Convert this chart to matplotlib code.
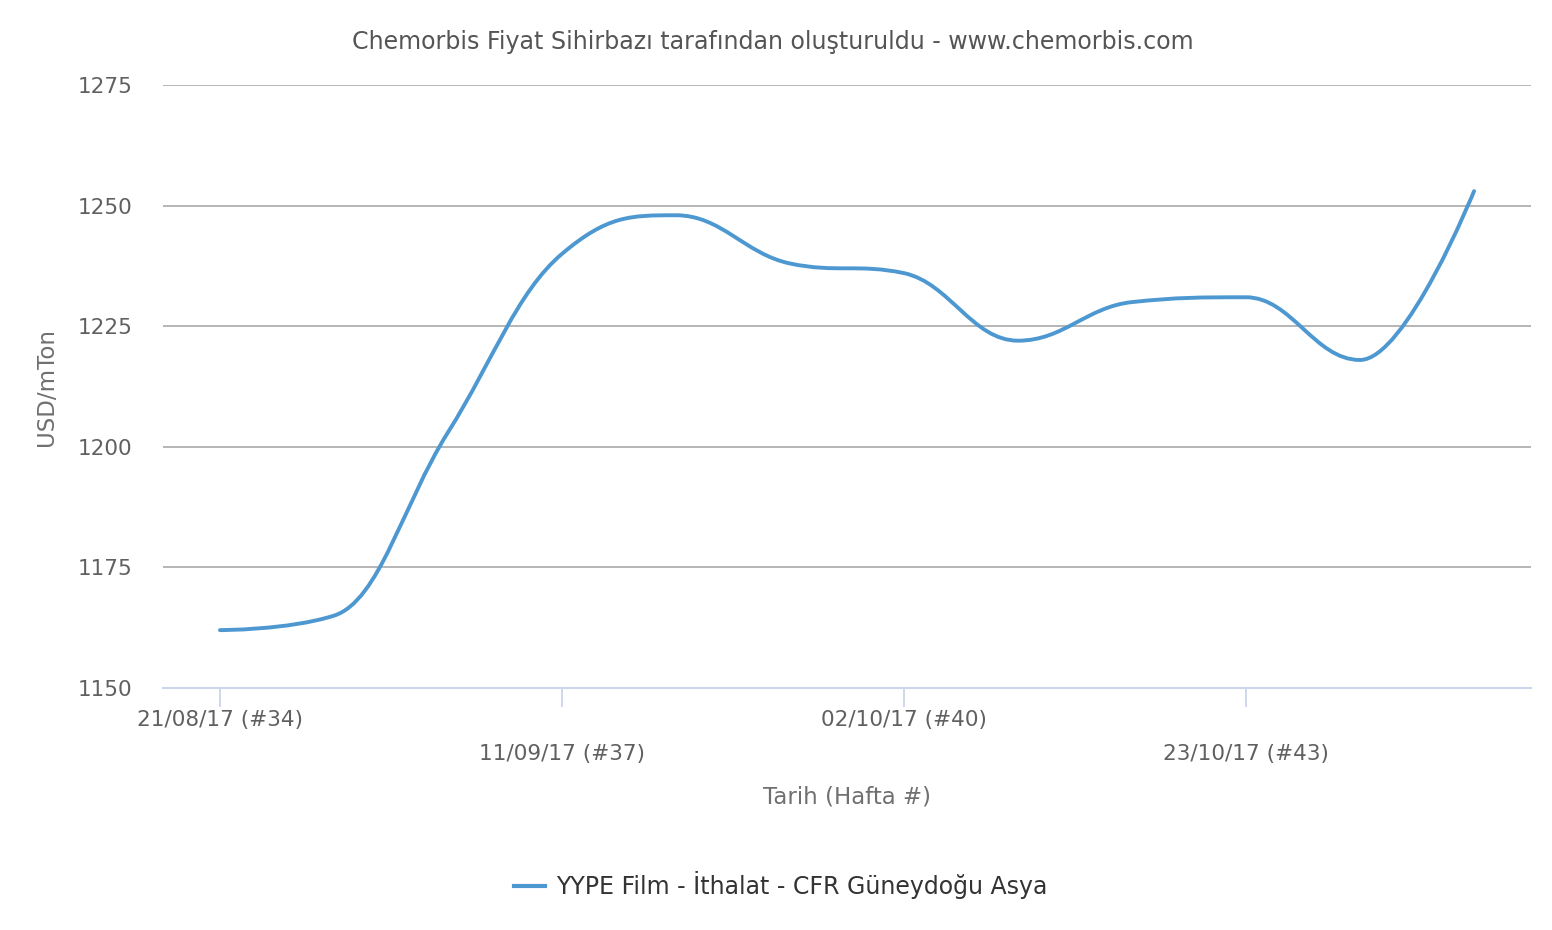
import matplotlib
matplotlib.use('Agg')
import matplotlib.pyplot as plt
from matplotlib.path import Path
from matplotlib.patches import PathPatch
from matplotlib.lines import Line2D

plt.rcParams['font.family'] = ['DejaVu Sans']

weeks = [34, 35, 36, 37, 38, 39, 40, 41, 42, 43, 44, 45]
prices = [1162, 1165, 1203, 1240, 1248, 1238, 1236, 1222, 1230, 1231, 1218, 1253]
tick_weeks = [34, 37, 40, 43]
tick_labels = ['21/08/17 (#34)', '11/09/17 (#37)', '02/10/17 (#40)', '23/10/17 (#43)']
y_ticks = [1150, 1175, 1200, 1225, 1250, 1275]
series_name = 'YYPE Film - İthalat - CFR Güneydoğu Asya'

LINE = '#4d98d0'


# Highcharts-style spline: cubic bezier segments with smoothing 1.5
def spline_path(xs, ys, smoothing=1.5):
    denom = smoothing + 1
    n = len(xs)
    left = [None] * n
    right = [None] * n
    for i in range(1, n - 1):
        px, py = xs[i], ys[i]
        lx, ly = xs[i - 1], ys[i - 1]
        nx, ny = xs[i + 1], ys[i + 1]
        lcx = (smoothing * px + lx) / denom
        lcy = (smoothing * py + ly) / denom
        rcx = (smoothing * px + nx) / denom
        rcy = (smoothing * py + ny) / denom
        corr = 0
        if rcx != lcx:
            corr = (rcy - lcy) * (rcx - px) / (rcx - lcx) + py - rcy
        lcy += corr
        rcy += corr
        if lcy > ly and lcy > py:
            lcy = max(ly, py)
            rcy = 2 * py - lcy
        elif lcy < ly and lcy < py:
            lcy = min(ly, py)
            rcy = 2 * py - lcy
        if rcy > ny and rcy > py:
            rcy = max(ny, py)
            lcy = 2 * py - rcy
        elif rcy < ny and rcy < py:
            rcy = min(ny, py)
            lcy = 2 * py - rcy
        left[i] = (lcx, lcy)
        right[i] = (rcx, rcy)
    verts = [(xs[0], ys[0])]
    codes = [Path.MOVETO]
    for i in range(1, n):
        c1 = right[i - 1] or (xs[i - 1], ys[i - 1])
        c2 = left[i] or (xs[i], ys[i])
        verts += [c1, c2, (xs[i], ys[i])]
        codes += [Path.CURVE4] * 3
    return Path(verts, codes)


fig = plt.figure(figsize=(15.52, 9.30), dpi=100)
ax = fig.add_axes([0.105, 0.2602, 0.8815, 0.6484])

ax.set_xlim(33.5, 45.5)
ax.set_ylim(1150, 1275)

for y in y_ticks[1:]:
    ax.axhline(y, color='#b5b5b5', linewidth=1.4, zorder=1)

patch = PathPatch(spline_path(weeks, prices), facecolor='none', edgecolor=LINE,
                  linewidth=2.8, capstyle='round', joinstyle='round', zorder=3)
ax.add_patch(patch)

for s in ['top', 'right', 'left']:
    ax.spines[s].set_visible(False)
ax.spines['bottom'].set_color('#ccd6eb')
ax.spines['bottom'].set_linewidth(1.5)

ax.set_yticks(y_ticks)
ax.set_yticklabels([str(v) for v in y_ticks], fontsize=15.5, color='#606060')
ax.tick_params(axis='y', length=0, pad=22)

ax.set_xticks(tick_weeks)
ax.set_xticklabels([])
ax.tick_params(axis='x', length=14, width=1.3, color='#ccd6eb')
for i, (w, lab) in enumerate(zip(tick_weeks, tick_labels)):
    ax.annotate(lab, xy=(w, 0), xycoords=('data', 'axes fraction'),
                xytext=(0, -32 if i % 2 == 0 else -66), textcoords='offset pixels',
                ha='center', va='center', fontsize=15.6, color='#606060')

ax.set_ylabel('USD/mTon', fontsize=16.5, color='#707070', labelpad=18)
ax.yaxis.set_label_coords(-0.077, 0.5)
fig.text(847 / 1552, 1 - 797 / 930, 'Tarih (Hafta #)', ha='center', va='center',
         fontsize=16.5, color='#707070')

fig.text(773 / 1552, 1 - 42 / 930,
         'Chemorbis Fiyat Sihirbazı tarafından oluşturuldu - www.chemorbis.com',
         ha='center', va='center', fontsize=17.1, color='#555555')

handle = Line2D([], [], color=LINE, linewidth=3)
fig.legend([handle], [series_name], loc='center', bbox_to_anchor=(781 / 1552, 1 - 885 / 930),
           frameon=False, fontsize=17, handlelength=1.3, handletextpad=0.5,
           labelcolor='#333333')

fig.savefig('out.png', dpi=100)
